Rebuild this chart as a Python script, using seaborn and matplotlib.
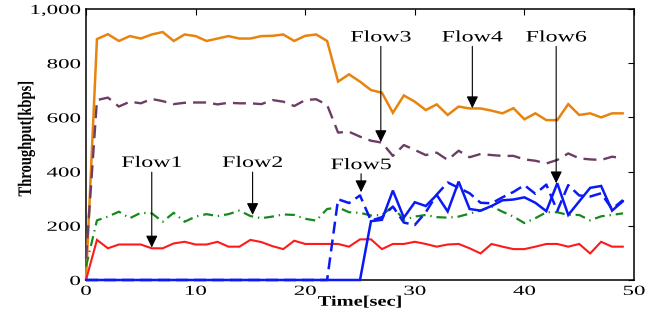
import numpy as np
import pandas as pd
import matplotlib
matplotlib.use("Agg")
import matplotlib.pyplot as plt
import seaborn as sns
from matplotlib.patheffects import AbstractPathEffect
from matplotlib.transforms import Affine2D

# ---------------- data ----------------
time = list(range(50))

flow1 = [0, 148, 117, 131, 131, 131, 117, 117, 135, 141, 131, 131, 141, 123, 123, 148, 140, 125, 114, 145,
         133, 133, 133, 133, 123, 150, 150, 114, 133, 133, 141, 133, 123, 131, 133, 117, 98, 133, 123, 114,
         114, 123, 133, 133, 123, 133, 98, 141, 123, 123]
flow2 = [50, 220, 234, 252, 228, 248, 246, 215, 248, 215, 234, 243, 236, 243, 256, 236, 228, 234, 242, 240,
         226, 219, 262, 268, 250, 248, 238, 240, 271, 222, 234, 240, 232, 230, 234, 245, 256, 272, 252, 234,
         210, 228, 250, 250, 240, 240, 220, 235, 240, 246]
flow3 = [80, 664, 673, 640, 658, 652, 668, 660, 649, 654, 655, 655, 648, 654, 652, 652, 649, 664, 658, 642,
         664, 667, 646, 544, 547, 529, 514, 507, 458, 498, 480, 461, 470, 443, 477, 453, 465, 461, 458, 458,
         445, 440, 430, 443, 467, 449, 445, 443, 455, 449]
flow4 = [0, 889, 907, 882, 900, 891, 906, 915, 882, 906, 900, 882, 891, 900, 891, 891, 900, 901, 906, 882,
         901, 906, 882, 732, 759, 732, 701, 691, 617, 681, 658, 627, 648, 609, 640, 633, 633, 625, 615, 634,
         593, 615, 590, 590, 649, 609, 615, 600, 615, 615]
flow5 = [0] * 23 + [298, 284, 312, 219, 232, 271, 212, 203, 250, 315, 360, 340, 320, 285, 283, 305, 325,
                    350, 318, 352, 255, 350, 312, 308, 320, 262, 295]
flow6 = [0] * 26 + [217, 222, 330, 230, 287, 273, 314, 253, 363, 262, 256, 273, 294, 297, 305, 285, 254,
                    357, 240, 290, 340, 347, 256, 291]

x_ticks = [0, 10, 20, 30, 40, 50]
x_tick_labels = ["0", "10", "20", "30", "40", "50"]
y_ticks = [0, 200, 400, 600, 800, 1000]
y_tick_labels = ["0", "200", "400", "600", "800", "1,000"]

# annotation labels: (text, text x, text y, arrow tail y, arrow tip y)
ann_labels = ["Flow1", "Flow2", "Flow5", "Flow3", "Flow4", "Flow6"]
ann_x = [6.0, 15.2, 25.1, 26.9, 35.25, 42.9]
ann_text_y = [432, 432, 424, 895, 895, 895]
ann_tail_y = [398, 398, 392, 862, 862, 862]
ann_tip_y = [120, 240, 324, 509, 634, 357]


# ---------------- helpers ----------------
class HStretch(AbstractPathEffect):
    """Stretch rendered text horizontally (the reference image is stretched)."""

    def __init__(self, sx, anchor="center"):
        super().__init__()
        self.sx = sx
        self.anchor = anchor

    def draw_path(self, renderer, gc, tpath, affine, rgbFace=None):
        ext = tpath.get_extents(affine)
        if self.anchor == "right":
            a = ext.x1
        elif self.anchor == "left":
            a = ext.x0
        else:
            a = 0.5 * (ext.x0 + ext.x1)
        t = affine + Affine2D().translate(-a, 0).scale(self.sx, 1.0).translate(a, 0)
        renderer.draw_path(gc, tpath, t, rgbFace)


sns.set_theme(style="white")
plt.rcParams["font.family"] = ["Liberation Serif", "DejaVu Serif"]
plt.rcParams["mathtext.fontset"] = "stix"

fig = plt.figure(figsize=(6.53, 3.20), dpi=100)
ax = fig.add_axes([86 / 653, 40 / 320, 548 / 653, 271 / 320])

series = [
    (flow4, "#E8840E", None, 1.8),
    (flow3, "#6E3D66", (5.5, 3.0), 1.7),
    (flow2, "#16891A", (4.5, 2.2, 0.6, 2.2), 1.6),
    (flow1, "#FF1A1A", None, 1.5),
    (flow5, "#0A1AF5", (4.8, 2.4), 1.8),
    (flow6, "#0A1AF5", None, 1.8),
]
for vals, col, dash, lw in series:
    df = pd.DataFrame({"t": time, "v": vals})
    sns.lineplot(data=df, x="t", y="v", ax=ax, color=col, lw=lw, estimator=None,
                 legend=False, clip_on=False, zorder=3)
    ln = ax.get_lines()[-1]
    if dash is not None:
        ln.set_dashes(dash)
    ln.set_solid_joinstyle("miter")

ax.set_xlim(0, 50)
ax.set_ylim(0, 1000)
ax.set_xticks(x_ticks)
ax.set_xticklabels(x_tick_labels)
ax.set_yticks(y_ticks)
ax.set_yticklabels(y_tick_labels)

ax.tick_params(axis="both", which="both", direction="in", length=4, width=0.8,
               top=True, right=True, colors="black", labelsize=10)
ax.tick_params(axis="x", pad=3.5)
ax.tick_params(axis="y", pad=4)
for sp in ax.spines.values():
    sp.set_color("black")
    sp.set_linewidth(1.1)
    sp.set_zorder(2.5)

for lab in ax.get_xticklabels():
    lab.set_path_effects([HStretch(1.65, "center")])
for lab in ax.get_yticklabels():
    lab.set_path_effects([HStretch(1.65, "right")])

ax.set_xlabel("Time[sec]", fontsize=10.5, fontweight="bold", color="black")
ax.set_ylabel("Throughput[kbps]", fontsize=10.5, fontweight="bold", color="black")
ax.xaxis.set_label_coords(0.5, -0.058)
ax.yaxis.set_label_coords(-0.097, 0.522)
ax.xaxis.label.set_path_effects([HStretch(1.4, "center")])
ax.yaxis.label.set_path_effects([HStretch(1.3, "center")])

for lab, xx, ty, tail, tip in zip(ann_labels, ann_x, ann_text_y, ann_tail_y, ann_tip_y):
    t = ax.text(xx, ty, lab, ha="center", va="center", fontsize=11.5, color="black", zorder=6)
    t.set_path_effects([HStretch(1.5, "center")])
    ax.annotate("", xy=(xx, tip), xytext=(xx, tail),
                arrowprops=dict(arrowstyle="-|>,head_length=0.45,head_width=0.22",
                                color="black", lw=0.8, mutation_scale=16,
                                shrinkA=0, shrinkB=0),
                zorder=5)

fig.savefig("out.png", dpi=100, facecolor="white")
